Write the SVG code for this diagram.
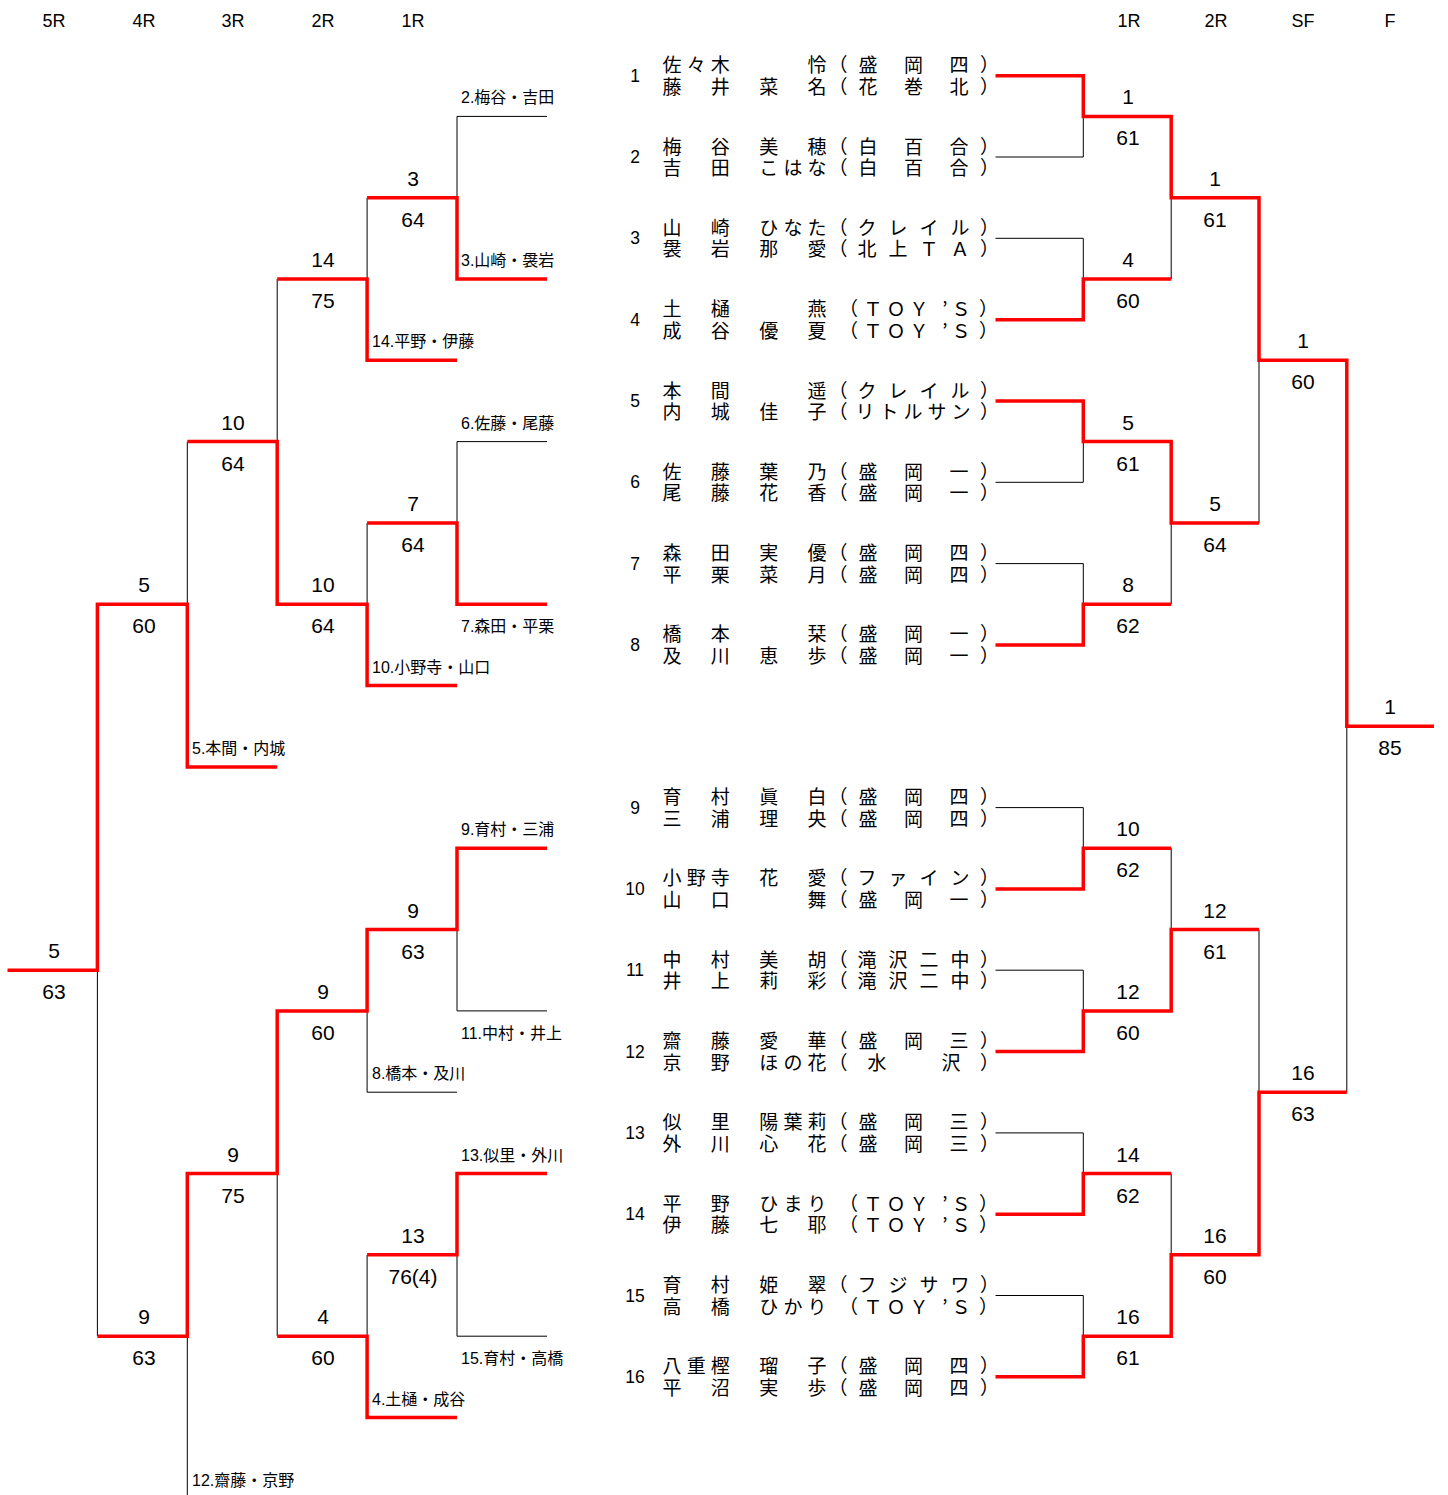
<svg xmlns="http://www.w3.org/2000/svg" width="1448" height="1495" viewBox="0 0 1448 1495">
<style>
.r{stroke:#ff0000;stroke-width:3.5;fill:none;stroke-linejoin:miter}
.k{stroke:#000;stroke-width:1;fill:none}
.nm{font-family:"Noto Sans CJK JP",sans-serif;font-size:19px;text-anchor:middle;fill:#000}
.no{font-family:"Liberation Sans",sans-serif;font-size:17.5px;text-anchor:middle;fill:#000}
.sc{font-family:"Liberation Sans Narrow","Liberation Sans",sans-serif;font-size:21px;text-anchor:middle;fill:#000}
.lf{font-family:"Liberation Sans","Noto Sans CJK JP",sans-serif;font-size:16px;fill:#000}
.hd{font-family:"Liberation Sans",sans-serif;font-size:18px;text-anchor:middle;fill:#000}
</style>
<rect width="1448" height="1495" fill="#fff"/>
<g id="headers">
<text class="hd" x="54" y="26.5">5R</text>
<text class="hd" x="144" y="26.5">4R</text>
<text class="hd" x="233" y="26.5">3R</text>
<text class="hd" x="323" y="26.5">2R</text>
<text class="hd" x="413" y="26.5">1R</text>
<text class="hd" x="1129" y="26.5">1R</text>
<text class="hd" x="1216" y="26.5">2R</text>
<text class="hd" x="1303" y="26.5">SF</text>
<text class="hd" x="1390" y="26.5">F</text>
</g>
<g id="connectors">
<path class="k" d="M995.5 157 H1083.3 V116.4 M995.5 238.3 H1083.3 V279 M995.5 482.3 H1083.3 V441.6 M995.5 563.6 H1083.3 V604.3 M995.5 807.6 H1083.3 V848.2 M995.5 970.2 H1083.3 V1010.9 M995.5 1132.9 H1083.3 V1173.5 M995.5 1295.5 H1083.3 V1336.2 M1171.2 197.7 V279 M1171.2 523 V604.3 M1171.2 848.2 V929.6 M1171.2 1173.5 V1254.8 M1259 360.3 V523 M1259 929.6 V1092.2 M1346.8 726.3 V1092.2"/>
<path class="k" d="M547 116.4 H457 V197.7 M367.1 197.7 V279 M547 441.6 H457 V523 M367.1 523 V604.3 M277.2 279 V441.6 M187.3 441.6 V604.3 M547 1010.9 H457 V929.6 M457 1092.2 H367.1 V1010.9 M547 1336.2 H457 V1254.8 M367.1 1254.8 V1336.2 M277.2 1173.5 V1336.2 M187.3 1336.2 V1498.8 H277.2 M97.4 970.2 V1336.2"/>
<polyline class="r" points="995.5,75.7 1083.3,75.7 1083.3,116.4 1171.2,116.4 1171.2,197.7 1259,197.7 1259,360.3 1346.8,360.3 1346.8,726.3 1434,726.3"/>
<polyline class="r" points="995.5,319.7 1083.3,319.7 1083.3,279 1171.2,279"/>
<polyline class="r" points="995.5,401 1083.3,401 1083.3,441.6 1171.2,441.6 1171.2,523 1259,523"/>
<polyline class="r" points="995.5,644.9 1083.3,644.9 1083.3,604.3 1171.2,604.3"/>
<polyline class="r" points="995.5,888.9 1083.3,888.9 1083.3,848.2 1171.2,848.2"/>
<polyline class="r" points="995.5,1051.5 1083.3,1051.5 1083.3,1010.9 1171.2,1010.9 1171.2,929.6 1259,929.6"/>
<polyline class="r" points="995.5,1214.2 1083.3,1214.2 1083.3,1173.5 1171.2,1173.5"/>
<polyline class="r" points="995.5,1376.8 1083.3,1376.8 1083.3,1336.2 1171.2,1336.2 1171.2,1254.8 1259,1254.8 1259,1092.2 1346.8,1092.2"/>
<polyline class="r" points="547,279 457,279 457,197.7 367.1,197.7"/>
<polyline class="r" points="457,360.3 367.1,360.3 367.1,279 277.2,279"/>
<polyline class="r" points="547,604.3 457,604.3 457,523 367.1,523"/>
<polyline class="r" points="457,685.6 367.1,685.6 367.1,604.3 277.2,604.3 277.2,441.6 187.3,441.6"/>
<polyline class="r" points="277.2,766.9 187.3,766.9 187.3,604.3 97.4,604.3 97.4,970.2 7.5,970.2"/>
<polyline class="r" points="547,848.2 457,848.2 457,929.6 367.1,929.6 367.1,1010.9 277.2,1010.9 277.2,1173.5 187.3,1173.5 187.3,1336.2 97.4,1336.2"/>
<polyline class="r" points="547,1173.5 457,1173.5 457,1254.8 367.1,1254.8"/>
<polyline class="r" points="457,1417.5 367.1,1417.5 367.1,1336.2 277.2,1336.2"/>
</g>
<g id="entry-1"><text class="no" x="635" y="81.7">1</text>
<text class="nm" x="672 696.2 720.3 817 838 868 913.5 959 989.5" y="72.2">佐々木怜（盛岡四）</text>
<text class="nm" x="672 720.3 768.7 817 838 868 913.5 959 989.5" y="93.7">藤井菜名（花巻北）</text></g>
<g id="entry-2"><text class="no" x="635" y="163">2</text>
<text class="nm" x="672 720.3 768.7 817 838 868 913.5 959 989.5" y="153.5">梅谷美穂（白百合）</text>
<text class="nm" x="672 720.3 768.7 792.9 817 838 868 913.5 959 989.5" y="175">吉田こはな（白百合）</text></g>
<g id="entry-3"><text class="no" x="635" y="244.3">3</text>
<text class="nm" x="672 720.3 768.7 792.9 817 838 867 898 929 960 989.5" y="234.8">山崎ひなた（クレイル）</text>
<text class="nm" x="672 720.3 768.7 817 838 867 898 929 960 989.5" y="256.3">袰岩那愛（北上ＴＡ）</text></g>
<g id="entry-4"><text class="no" x="635" y="325.7">4</text>
<text class="nm" x="672 720.3 817 848.5 873 896 919 945 961 988.5" y="316.2">土樋燕（ＴＯＹ’Ｓ）</text>
<text class="nm" x="672 720.3 768.7 817 848.5 873 896 919 945 961 988.5" y="337.7">成谷優夏（ＴＯＹ’Ｓ）</text></g>
<g id="entry-5"><text class="no" x="635" y="407">5</text>
<text class="nm" x="672 720.3 817 838 867 898 929 960 989.5" y="397.5">本間遥（クレイル）</text>
<text class="nm" x="672 720.3 768.7 817 838 865 889 913 937 961 989.5" y="419">内城佳子（リトルサン）</text></g>
<g id="entry-6"><text class="no" x="635" y="488.3">6</text>
<text class="nm" x="672 720.3 768.7 817 838 868 913.5 959 989.5" y="478.8">佐藤葉乃（盛岡一）</text>
<text class="nm" x="672 720.3 768.7 817 838 868 913.5 959 989.5" y="500.3">尾藤花香（盛岡一）</text></g>
<g id="entry-7"><text class="no" x="635" y="569.6">7</text>
<text class="nm" x="672 720.3 768.7 817 838 868 913.5 959 989.5" y="560.1">森田実優（盛岡四）</text>
<text class="nm" x="672 720.3 768.7 817 838 868 913.5 959 989.5" y="581.6">平栗菜月（盛岡四）</text></g>
<g id="entry-8"><text class="no" x="635" y="650.9">8</text>
<text class="nm" x="672 720.3 817 838 868 913.5 959 989.5" y="641.4">橋本栞（盛岡一）</text>
<text class="nm" x="672 720.3 768.7 817 838 868 913.5 959 989.5" y="662.9">及川恵歩（盛岡一）</text></g>
<g id="entry-9"><text class="no" x="635" y="813.6">9</text>
<text class="nm" x="672 720.3 768.7 817 838 868 913.5 959 989.5" y="804.1">育村眞白（盛岡四）</text>
<text class="nm" x="672 720.3 768.7 817 838 868 913.5 959 989.5" y="825.6">三浦理央（盛岡四）</text></g>
<g id="entry-10"><text class="no" x="635" y="894.9">10</text>
<text class="nm" x="672 696.2 720.3 768.7 817 838 867 898 929 960 989.5" y="885.4">小野寺花愛（ファイン）</text>
<text class="nm" x="672 720.3 817 838 868 913.5 959 989.5" y="906.9">山口舞（盛岡一）</text></g>
<g id="entry-11"><text class="no" x="635" y="976.2">11</text>
<text class="nm" x="672 720.3 768.7 817 838 867 898 929 960 989.5" y="966.7">中村美胡（滝沢二中）</text>
<text class="nm" x="672 720.3 768.7 817 838 867 898 929 960 989.5" y="988.2">井上莉彩（滝沢二中）</text></g>
<g id="entry-12"><text class="no" x="635" y="1057.5">12</text>
<text class="nm" x="672 720.3 768.7 817 838 868 913.5 959 989.5" y="1048">齋藤愛華（盛岡三）</text>
<text class="nm" x="672 720.3 768.7 792.9 817 838 877 951 989.5" y="1069.5">京野ほの花（水沢）</text></g>
<g id="entry-13"><text class="no" x="635" y="1138.9">13</text>
<text class="nm" x="672 720.3 768.7 792.9 817 838 868 913.5 959 989.5" y="1129.4">似里陽葉莉（盛岡三）</text>
<text class="nm" x="672 720.3 768.7 817 838 868 913.5 959 989.5" y="1150.9">外川心花（盛岡三）</text></g>
<g id="entry-14"><text class="no" x="635" y="1220.2">14</text>
<text class="nm" x="672 720.3 768.7 792.9 817 848.5 873 896 919 945 961 988.5" y="1210.7">平野ひまり（ＴＯＹ’Ｓ）</text>
<text class="nm" x="672 720.3 768.7 817 848.5 873 896 919 945 961 988.5" y="1232.2">伊藤七耶（ＴＯＹ’Ｓ）</text></g>
<g id="entry-15"><text class="no" x="635" y="1301.5">15</text>
<text class="nm" x="672 720.3 768.7 817 838 867 898 929 960 989.5" y="1292">育村姫翠（フジサワ）</text>
<text class="nm" x="672 720.3 768.7 792.9 817 848.5 873 896 919 945 961 988.5" y="1313.5">高橋ひかり（ＴＯＹ’Ｓ）</text></g>
<g id="entry-16"><text class="no" x="635" y="1382.8">16</text>
<text class="nm" x="672 696.2 720.3 768.7 817 838 868 913.5 959 989.5" y="1373.3">八重樫瑠子（盛岡四）</text>
<text class="nm" x="672 720.3 768.7 817 838 868 913.5 959 989.5" y="1394.8">平沼実歩（盛岡四）</text></g>
<g id="right-results">
<g id="r1-m1"><text class="sc" x="1128" y="104.4">1</text><text class="sc" x="1128" y="145.4">61</text></g>
<g id="r1-m2"><text class="sc" x="1128" y="267">4</text><text class="sc" x="1128" y="308">60</text></g>
<g id="r1-m3"><text class="sc" x="1128" y="429.6">5</text><text class="sc" x="1128" y="470.6">61</text></g>
<g id="r1-m4"><text class="sc" x="1128" y="592.3">8</text><text class="sc" x="1128" y="633.3">62</text></g>
<g id="r1-m5"><text class="sc" x="1128" y="836.2">10</text><text class="sc" x="1128" y="877.2">62</text></g>
<g id="r1-m6"><text class="sc" x="1128" y="998.9">12</text><text class="sc" x="1128" y="1039.9">60</text></g>
<g id="r1-m7"><text class="sc" x="1128" y="1161.5">14</text><text class="sc" x="1128" y="1202.5">62</text></g>
<g id="r1-m8"><text class="sc" x="1128" y="1324.2">16</text><text class="sc" x="1128" y="1365.2">61</text></g>
<g id="r2-m1"><text class="sc" x="1215" y="185.7">1</text><text class="sc" x="1215" y="226.7">61</text></g>
<g id="r2-m2"><text class="sc" x="1215" y="511">5</text><text class="sc" x="1215" y="552">64</text></g>
<g id="r2-m3"><text class="sc" x="1215" y="917.6">12</text><text class="sc" x="1215" y="958.6">61</text></g>
<g id="r2-m4"><text class="sc" x="1215" y="1242.8">16</text><text class="sc" x="1215" y="1283.8">60</text></g>
<g id="sf-m1"><text class="sc" x="1303" y="348.3">1</text><text class="sc" x="1303" y="389.3">60</text></g>
<g id="sf-m2"><text class="sc" x="1303" y="1080.2">16</text><text class="sc" x="1303" y="1121.2">63</text></g>
<g id="final"><text class="sc" x="1390" y="714.3">1</text><text class="sc" x="1390" y="755.3">85</text></g>
</g>
<g id="left-results">
<g id="l1-m1"><text class="sc" x="413" y="185.7">3</text><text class="sc" x="413" y="226.7">64</text></g>
<g id="l1-m2"><text class="sc" x="413" y="511">7</text><text class="sc" x="413" y="552">64</text></g>
<g id="l1-m3"><text class="sc" x="413" y="917.6">9</text><text class="sc" x="413" y="958.6">63</text></g>
<g id="l1-m4"><text class="sc" x="413" y="1242.8">13</text><text class="sc" x="413" y="1283.8">76(4)</text></g>
<g id="l2-m1"><text class="sc" x="323" y="267">14</text><text class="sc" x="323" y="308">75</text></g>
<g id="l2-m2"><text class="sc" x="323" y="592.3">10</text><text class="sc" x="323" y="633.3">64</text></g>
<g id="l2-m3"><text class="sc" x="323" y="998.9">9</text><text class="sc" x="323" y="1039.9">60</text></g>
<g id="l2-m4"><text class="sc" x="323" y="1324.2">4</text><text class="sc" x="323" y="1365.2">60</text></g>
<g id="l3-m1"><text class="sc" x="233" y="429.6">10</text><text class="sc" x="233" y="470.6">64</text></g>
<g id="l3-m2"><text class="sc" x="233" y="1161.5">9</text><text class="sc" x="233" y="1202.5">75</text></g>
<g id="l4-m1"><text class="sc" x="144" y="592.3">5</text><text class="sc" x="144" y="633.3">60</text></g>
<g id="l4-m2"><text class="sc" x="144" y="1324.2">9</text><text class="sc" x="144" y="1365.2">63</text></g>
<g id="l5-m1"><text class="sc" x="54" y="958.2">5</text><text class="sc" x="54" y="999.2">63</text></g>
</g>
<g id="left-leaves">
<g id="leaf-2"><text class="lf" x="461" y="103.4">2.梅谷・吉田</text></g>
<g id="leaf-3"><text class="lf" x="461" y="266">3.山崎・袰岩</text></g>
<g id="leaf-14"><text class="lf" x="372" y="347.3">14.平野・伊藤</text></g>
<g id="leaf-6"><text class="lf" x="461" y="428.6">6.佐藤・尾藤</text></g>
<g id="leaf-7"><text class="lf" x="461" y="632.3">7.森田・平栗</text></g>
<g id="leaf-10"><text class="lf" x="372" y="672.6">10.小野寺・山口</text></g>
<g id="leaf-5"><text class="lf" x="192" y="753.9">5.本間・内城</text></g>
<g id="leaf-9"><text class="lf" x="461" y="835.2">9.育村・三浦</text></g>
<g id="leaf-11"><text class="lf" x="461" y="1038.9">11.中村・井上</text></g>
<g id="leaf-8"><text class="lf" x="372" y="1079.2">8.橋本・及川</text></g>
<g id="leaf-13"><text class="lf" x="461" y="1160.5">13.似里・外川</text></g>
<g id="leaf-15"><text class="lf" x="461" y="1364.2">15.育村・高橋</text></g>
<g id="leaf-4"><text class="lf" x="372" y="1404.5">4.土樋・成谷</text></g>
<g id="leaf-12"><text class="lf" x="192" y="1485.8">12.齋藤・京野</text></g>
</g>
</svg>
